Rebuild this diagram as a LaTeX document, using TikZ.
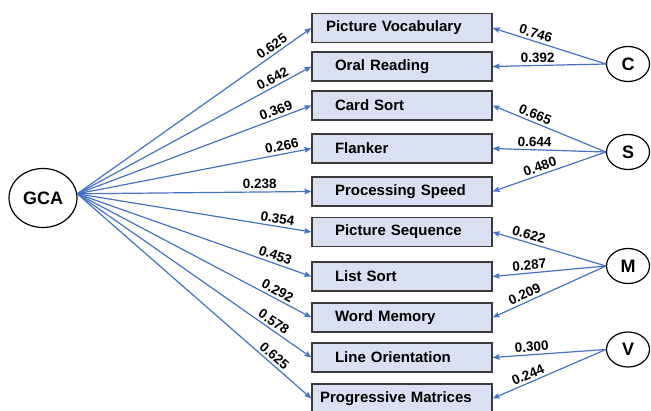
\documentclass[tikz,border=0pt]{standalone}
\usepackage{fontspec}
\setmainfont{Liberation Sans}
\usetikzlibrary{shapes.geometric,arrows.meta}

\definecolor{edgeblue}{HTML}{4472C4}
\definecolor{boxfill}{HTML}{DAE0F2}
\definecolor{boxline}{HTML}{3A3A3A}

\begin{document}
\begin{tikzpicture}[x=1pt,y=-1pt,
  measure/.style={draw=boxline, line width=1.2pt, fill=boxfill,
    minimum height=29pt, inner ysep=0pt, inner xsep=23pt, text width=134pt,
    align=left, font=\fontsize{15}{18}\selectfont\bfseries},
  widemeasure/.style={measure, inner xsep=#1, text width=180pt-2*#1},
  factor/.style={draw=black, line width=1.2pt, ellipse, inner sep=0pt,
    minimum width=43pt, minimum height=35pt,
    font=\fontsize{18}{20}\selectfont\bfseries},
  load/.style={draw=edgeblue, line width=1.2pt,
    -{Stealth[length=7pt,width=5.5pt,inset=1pt]}},
  coef/.style={sloped, above=2pt, inner sep=0.5pt,
    font=\fontsize{13.5}{15}\selectfont\bfseries}]

\clip (0,0) rectangle (651,411);

% general factor
\node[factor, minimum width=68pt, minimum height=59pt] (gca) at (43,198) {GCA};

% specific factors
\node[factor] (c) at (628,64)  {C};
\node[factor] (s) at (628,152) {S};
\node[factor] (m) at (628,266) {M};
\node[factor] (v) at (628,349.5) {V};

% observed measures
\node[widemeasure=14pt] (pv) at (402,28)    {Picture Vocabulary};
\node[measure] (or) at (402,66.5)  {Oral Reading};
\node[measure] (cs) at (402,105.5) {Card Sort};
\node[measure] (fl) at (402,148.5) {Flanker};
\node[measure] (ps) at (402,191.5) {Processing Speed};
\node[measure] (sq) at (402,232)   {Picture Sequence};
\node[measure] (ls) at (402,276.5) {List Sort};
\node[measure] (wm) at (402,317.5) {Word Memory};
\node[measure] (lo) at (402,357.5) {Line Orientation};
\node[widemeasure=8pt] (pm) at (402,398.5) {Progressive Matrices};

% loadings on the general factor
\draw[load] (gca.7) -- node[coef,pos=0.85] {0.625} (pv.west);
\draw[load] (gca.7) -- node[coef,pos=0.85] {0.642} (or.west);
\draw[load] (gca.7) -- node[coef,pos=0.86] {0.369} (cs.west);
\draw[load] (gca.7) -- node[coef,pos=0.88] {0.266} (fl.west);
\draw[load] (gca.7) -- node[coef,pos=0.78] {0.238} (ps.west);
\draw[load] (gca.7) -- node[coef,pos=0.85] {0.354} (sq.west);
\draw[load] (gca.7) -- node[coef,pos=0.835] {0.453} (ls.west);
\draw[load] (gca.7) -- node[coef,pos=0.84] {0.292} (wm.west);
\draw[load] (gca.7) -- node[coef,pos=0.82] {0.578} (lo.west);
\draw[load] (gca.7) -- node[coef,pos=0.82] {0.625} (pm.west);

% loadings on the specific factors
\draw[load] (c.west) -- node[coef,pos=0.64] {0.746} (pv.east);
\draw[load] (c.west) -- node[coef,pos=0.60] {0.392} (or.east);
\draw[load] (s.west) -- node[coef,pos=0.65] {0.665} (cs.east);
\draw[load] (s.west) -- node[coef,pos=0.63] {0.644} (fl.east);
\draw[load] (s.west) -- node[coef,pos=0.56] {0.480} (ps.east);
\draw[load] (m.west) -- node[coef,pos=0.70] {0.622} (sq.east);
\draw[load] (m.west) -- node[coef,pos=0.67] {0.287} (ls.east);
\draw[load] (m.west) -- node[coef,pos=0.69] {0.209} (wm.east);
\draw[load] (v.west) -- node[coef,pos=0.65] {0.300} (lo.east);
\draw[load] (v.west) -- node[coef,pos=0.66] {0.244} (pm.east);

\end{tikzpicture}
\end{document}
